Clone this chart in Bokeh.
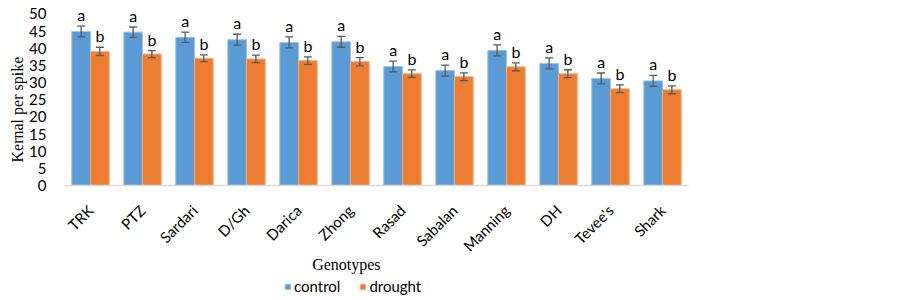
from bokeh.plotting import figure
from bokeh.layouts import column
from bokeh.models import (ColumnDataSource, FactorRange, Range1d, FixedTicker,
                          Legend, LegendItem, Title)
from bokeh.transform import dodge
from bokeh.core.properties import value
from bokeh.embed import file_html
from bokeh.resources import INLINE
import math

genotypes = ["TRK", "PTZ", "Sardari", "D/Gh", "Darica", "Zhong", "Rasad",
             "Sabalan", "Manning", "DH", "Tevee's", "Shark"]
control = [44.9, 44.7, 43.2, 42.5, 41.7, 41.9, 34.7, 33.5, 39.4, 35.6, 31.2, 30.5]
drought = [39.1, 38.3, 37.1, 36.9, 36.4, 36.1, 32.6, 31.7, 34.6, 32.6, 28.2, 27.9]
control_err = [1.55, 1.5, 1.5, 1.6, 1.6, 1.6, 1.55, 1.6, 1.6, 1.6, 1.6, 1.6]
drought_err = [1.2, 1.0, 1.0, 1.1, 1.1, 1.2, 1.1, 1.15, 1.15, 1.15, 1.15, 1.15]
control_letters = ["a"] * 12
drought_letters = ["b"] * 12
y_ticks = [0, 5, 10, 15, 20, 25, 30, 35, 40, 45, 50]
series_names = ["control", "drought"]

BLUE = "#5B9BD5"
ORANGE = "#ED7D31"
ERR = "#595959"
FONT = "Lato"
SERIF = "Liberation Serif"

src = ColumnDataSource(dict(
    g=genotypes,
    c=control, d=drought,
    cu=[v + e for v, e in zip(control, control_err)],
    cl=[v - e for v, e in zip(control, control_err)],
    du=[v + e for v, e in zip(drought, drought_err)],
    dl=[v - e for v, e in zip(drought, drought_err)],
    ca=control_letters, db=drought_letters,
))

xr = FactorRange(*genotypes, range_padding=0)

# ---------------- main chart ----------------
p = figure(x_range=xr, y_range=Range1d(0, 51.6),
           width=903, height=196, output_backend="svg", toolbar_location=None,
           min_border_left=64, min_border_right=215, min_border_top=8,
           min_border_bottom=11)
p.outline_line_color = None
p.xgrid.grid_line_color = None
p.ygrid.grid_line_color = None

bw = 0.36
off = 0.18
p.vbar(x=dodge("g", -off, range=xr), top="c", width=bw, source=src,
       fill_color=BLUE, line_color="#9DC3E6", line_width=1)
p.vbar(x=dodge("g", off, range=xr), top="d", width=bw, source=src,
       fill_color=ORANGE, line_color="#F4B183", line_width=1)

for side, up, lo in ((-off, "cu", "cl"), (off, "du", "dl")):
    xx = dodge("g", side, range=xr)
    p.segment(x0=xx, y0=lo, x1=xx, y1=up, source=src, line_color=ERR, line_width=1.3)
    p.scatter(x=xx, y=up, marker="dash", size=8, source=src, line_color=ERR, line_width=1.3)
    p.scatter(x=xx, y=lo, marker="dash", size=8, source=src, line_color=ERR, line_width=1.3)

p.text(x=dodge("g", -off, range=xr), y="cu", text="ca", source=src,
       text_align="center", text_baseline="bottom", y_offset=-2,
       text_font=value(FONT), text_font_size="16px", text_color="black")
p.text(x=dodge("g", off, range=xr), y="du", text="db", source=src,
       text_align="center", text_baseline="bottom", y_offset=-2,
       text_font=value(FONT), text_font_size="16px", text_color="black")

p.yaxis.ticker = FixedTicker(ticks=y_ticks)
p.yaxis.axis_line_color = None
p.yaxis.major_tick_line_color = None
p.yaxis.minor_tick_line_color = None
p.yaxis.major_label_text_font = FONT
p.yaxis.major_label_text_font_size = "15px"
p.yaxis.major_label_text_color = "black"
p.yaxis.major_label_standoff = 12

p.add_layout(Title(text="Kernal per spike", align="left", offset=23,
                   vertical_align="middle", standoff=0,
                   text_font=SERIF, text_font_size="16px",
                   text_font_style="normal", text_color="black"), "left")

# x axis: only the light baseline here; category labels are in the strip below
p.xaxis.ticker = FixedTicker(ticks=[])
p.xaxis.axis_line_color = "#D9D9D9"
p.xaxis.axis_line_width = 1.5
p.xaxis.major_tick_line_color = None
p.xaxis.minor_tick_line_color = None
p.xaxis.major_label_standoff = 0

# ---------------- label strip (category labels, axis title, legend) ----------------
H2 = 104
p2 = figure(x_range=xr, y_range=Range1d(0, H2),
            width=903, height=H2, output_backend="svg", toolbar_location=None,
            x_axis_location=None, y_axis_location=None,
            min_border_left=64, min_border_right=215, min_border_top=0,
            min_border_bottom=0)
p2.outline_line_color = None
p2.xgrid.grid_line_color = None
p2.ygrid.grid_line_color = None

lab_src = ColumnDataSource(dict(g=genotypes, y=[93] * len(genotypes)))
p2.text(x="g", y="y", text="g", source=lab_src, angle=math.pi / 4,
        text_align="right", text_baseline="middle",
        text_font=value(FONT), text_font_size="15px", text_color="black")

p2.text(x=[5.42], y=[36], text=["Genotypes"], text_align="center",
        text_baseline="middle", text_font=value(SERIF), text_font_size="16px",
        text_color="black")

# legend proxies (kept below the visible strip)
lc = p2.vbar(x=[genotypes[0]], top=[-10], bottom=[-20], width=0.3,
             fill_color=BLUE, line_color="#9DC3E6")
ld = p2.vbar(x=[genotypes[0]], top=[-10], bottom=[-20], width=0.3,
             fill_color=ORANGE, line_color="#F4B183")
legend = Legend(items=[LegendItem(label=series_names[0], renderers=[lc]),
                       LegendItem(label=series_names[1], renderers=[ld])],
                orientation="horizontal", location=(220, 5),
                glyph_width=7, glyph_height=7, label_standoff=3, spacing=19,
                padding=0, margin=0, label_height=18, border_line_color=None,
                background_fill_alpha=0,
                label_text_font=FONT, label_text_font_size="15px",
                label_text_color="black")
p2.add_layout(legend, "center")

open("out.html", "w").write(file_html(column(p, p2), INLINE))
